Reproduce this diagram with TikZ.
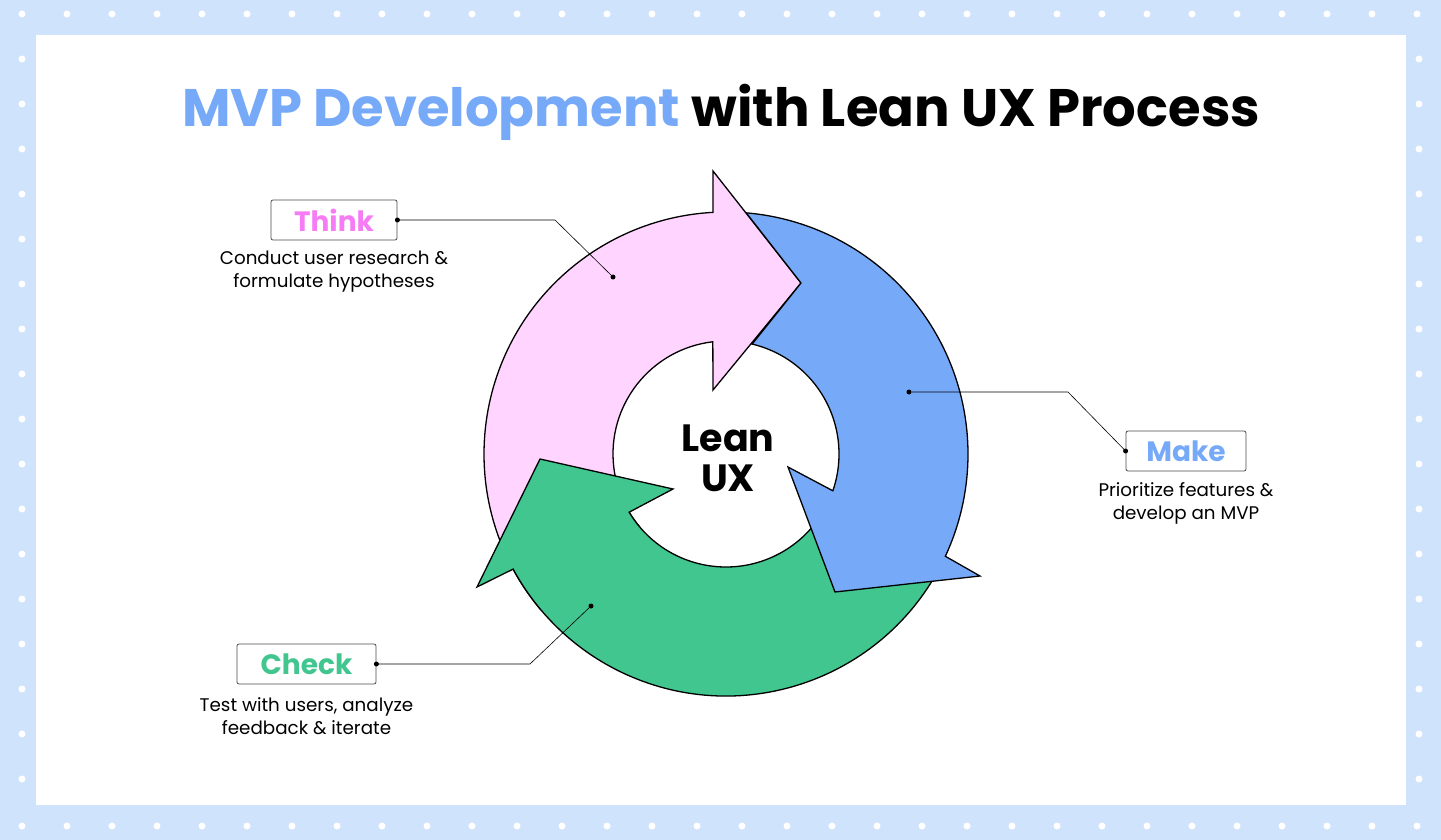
\documentclass[tikz,border=0pt]{standalone}
\usepackage{fontspec}
\setmainfont{Poppins}
\usetikzlibrary{calc}
\definecolor{bg}{HTML}{D0E3FD}
\definecolor{pinkf}{HTML}{FFD4FF}
\definecolor{bluef}{HTML}{76AAF8}
\definecolor{greenf}{HTML}{40C68E}
\definecolor{thinkc}{HTML}{F57CF5}
\tikzset{
  arrowshape/.style={draw=black,line width=1.3pt,line join=miter},
  labelbox/.style={draw=black!70,line width=0.8pt,rounded corners=2pt,minimum width=#1,minimum height=40pt,inner sep=0pt,font=\fontsize{28}{30}\selectfont\bfseries},
  desc/.style={align=center,font=\fontsize{18.3}{23}\selectfont},
  leader/.style={draw=black,line width=0.6pt},
  dotc/.style={circle,fill=black,inner sep=0pt,minimum size=5pt},
  centre/.style={font=\fontsize{38}{40}\selectfont\bfseries},
}
\begin{document}
\begin{tikzpicture}[x=1pt,y=-1pt]
\useasboundingbox (0,0) rectangle (1441,840);
\fill[bg] (0,0) rectangle (1441,840);
\foreach \i in {0,...,31} {
  \fill[white] (22+45*\i,14) circle (3.5);
  \fill[white] (22+45*\i,826) circle (3.5);
}
\foreach \j in {1,...,17} {
  \fill[white] (22,14+45*\j) circle (3.5);
  \fill[white] (1419,14+45*\j) circle (3.5);
}
\fill[white] (36,35) rectangle (1406,805);
\node[font=\fontsize{52.8}{58}\selectfont\bfseries] (title) at (721,112) {\textcolor{bluef}{MVP Development} with Lean UX Process};
\coordinate (C) at (726,454);
% pink
\draw[arrowshape,fill=pinkf] ($(C)+(140:242)$) arc[start angle=140,end angle=266.9,radius=242]
  -- (713,171) -- (801,283) -- (713,390) -- ($(C)+(263.3:113)$)
  arc[start angle=263.3,end angle=140,radius=113] -- cycle;
% green
\draw[arrowshape,fill=greenf] ($(C)+(25:242)$) arc[start angle=25,end angle=151.6,radius=242]
  -- (477,587) -- (540,459) -- (673,489) -- ($(C)+(149:113)$)
  arc[start angle=149,end angle=35,radius=113] -- cycle;
% blue
\draw[arrowshape,fill=bluef] ($(C)+(-85.2:242)$) arc[start angle=-85.2,end angle=25,radius=242]
  -- (980,576) -- (835,592) -- (788,467) -- ($(C)+(19:113)$)
  arc[start angle=19,end angle=-76.6,radius=113] -- (801,283) -- cycle;
\node[centre] (lean) at (728,438) {Lean};
\node[centre] (ux) at (728,478) {UX};
% Think
\node[labelbox=126pt,text=thinkc] (think) at (334,220) {Think};
\node[desc] (thinkd) at (334,272) {Conduct user research \&\\formulate hypotheses};
\node[dotc] (tdot) at (613,277) {};
\node[dotc] (tbd) at (think.east) {};
\coordinate (tk) at (555,220);
\draw[leader] (think.east) -- (tk) -- (tdot);
% Make
\node[labelbox=120pt,text=bluef] (make) at (1186,451) {Make};
\node[desc] (maked) at (1186,503) {Prioritize features \&\\develop an MVP};
\node[dotc] (mdot) at (909,392) {};
\node[dotc] (mbd) at (make.west) {};
\coordinate (mk) at (1068,392);
\draw[leader] (mdot) -- (mk) -- (make.west);
% Check
\node[labelbox=139pt,text=greenf] (check) at (306.5,664) {Check};
\node[desc] (checkd) at (306.5,716) {Test with users, analyze\\feedback \& iterate};
\node[dotc] (cdot) at (591,606) {};
\node[dotc] (cbd) at (check.east) {};
\coordinate (ck) at (530,664);
\draw[leader] (check.east) -- (ck) -- (cdot);
\end{tikzpicture}
\end{document}
